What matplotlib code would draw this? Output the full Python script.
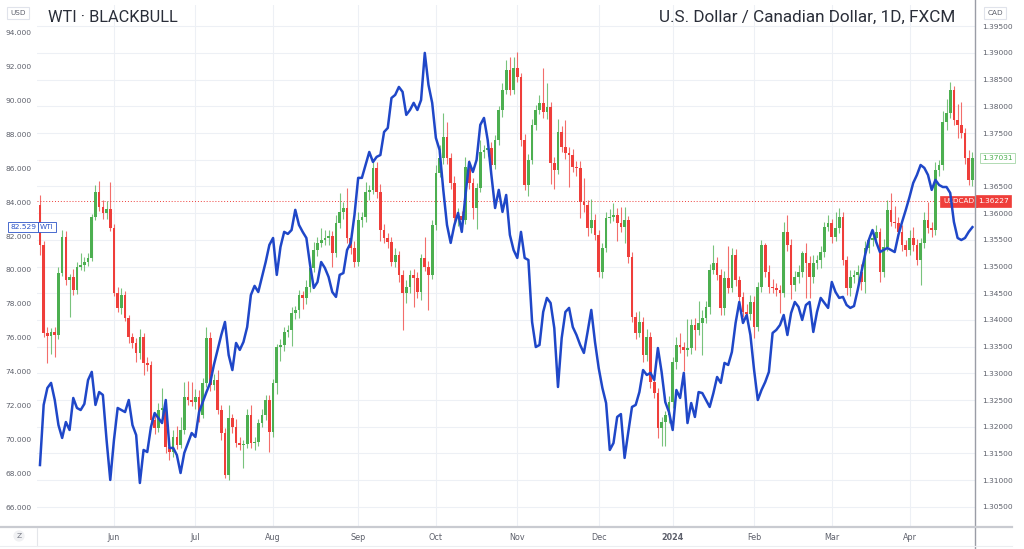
import numpy as np
import pandas as pd
import matplotlib
matplotlib.use("Agg")
import matplotlib.pyplot as plt
from matplotlib.lines import Line2D
from matplotlib.transforms import blended_transform_factory

# ---------------- data ----------------
dates = pd.bdate_range("2023-05-04", "2024-04-24")
dates = dates[~dates.isin(pd.to_datetime(["2023-12-25", "2024-01-01"]))]

month_labels = ["Jun", "Jul", "Aug", "Sep", "Oct", "Nov", "Dec", "2024", "Feb", "Mar", "Apr"]

usdcad_first_open = 1.3615
usdcad_close = [
    1.3540, 1.3376, 1.3370, 1.3378, 1.3372, 1.3488, 1.3555, 1.3475, 1.3481, 1.3456,
    1.3499, 1.3503, 1.3509, 1.3516, 1.3593, 1.3640, 1.3612, 1.3600, 1.3608, 1.3572,
    1.3451, 1.3422, 1.3447, 1.3404, 1.3368, 1.3357, 1.3338, 1.3368, 1.3319, 1.3316,
    1.3213, 1.3198, 1.3231, 1.3235, 1.3162, 1.3153, 1.3181, 1.3166, 1.3194, 1.3256,
    1.3250, 1.3246, 1.3256, 1.3222, 1.3282, 1.3366, 1.3278, 1.3288, 1.3231, 1.3188,
    1.3110, 1.3216, 1.3200, 1.3170, 1.3166, 1.3168, 1.3222, 1.3170, 1.3171, 1.3207,
    1.3222, 1.3250, 1.3190, 1.3282, 1.3349, 1.3353, 1.3378, 1.3381, 1.3413, 1.3419,
    1.3447, 1.3441, 1.3462, 1.3497, 1.3531, 1.3544, 1.3550, 1.3554, 1.3557, 1.3525,
    1.3582, 1.3602, 1.3610, 1.3554, 1.3535, 1.3509, 1.3587, 1.3593, 1.3640, 1.3643,
    1.3685, 1.3640, 1.3569, 1.3554, 1.3546, 1.3509, 1.3522, 1.3484, 1.3451, 1.3462,
    1.3484, 1.3479, 1.3452, 1.3516, 1.3499, 1.3484, 1.3578, 1.3675, 1.3703, 1.3743,
    1.3703, 1.3657, 1.3591, 1.3595, 1.3587, 1.3687, 1.3657, 1.3610, 1.3647, 1.3715,
    1.3718, 1.3722, 1.3690, 1.3737, 1.3793, 1.3831, 1.3868, 1.3831, 1.3872, 1.3855,
    1.3737, 1.3653, 1.3700, 1.3765, 1.3793, 1.3806, 1.3789, 1.3799, 1.3694, 1.3681,
    1.3752, 1.3724, 1.3713, 1.3709, 1.3687, 1.3685, 1.3621, 1.3615, 1.3572, 1.3587,
    1.3559, 1.3490, 1.3535, 1.3591, 1.3593, 1.3597, 1.3582, 1.3574, 1.3587, 1.3518,
    1.3406, 1.3376, 1.3396, 1.3334, 1.3368, 1.3284, 1.3263, 1.3198, 1.3209, 1.3222,
    1.3246, 1.3321, 1.3353, 1.3349, 1.3344, 1.3347, 1.3391, 1.3381, 1.3394, 1.3404,
    1.3424, 1.3494, 1.3507, 1.3484, 1.3422, 1.3479, 1.3460, 1.3522, 1.3475, 1.3443,
    1.3415, 1.3411, 1.3434, 1.3387, 1.3462, 1.3540, 1.3490, 1.3462, 1.3460, 1.3456,
    1.3451, 1.3565, 1.3540, 1.3465, 1.3481, 1.3490, 1.3525, 1.3507, 1.3481, 1.3507,
    1.3512, 1.3527, 1.3574, 1.3582, 1.3555, 1.3572, 1.3593, 1.3512, 1.3460, 1.3481,
    1.3484, 1.3490, 1.3471, 1.3535, 1.3550, 1.3554, 1.3565, 1.3490, 1.3537, 1.3606,
    1.3584, 1.3582, 1.3565, 1.3540, 1.3531, 1.3554, 1.3540, 1.3512, 1.3544, 1.3587,
    1.3572, 1.3568, 1.3681, 1.3690, 1.3771, 1.3788, 1.3831, 1.3775, 1.3765, 1.3750,
    1.3703, 1.3662, 1.3703,
]
# wick lengths above / below the candle body, in pips (0.0001)
upper_wick_pips = [
    19, 8, 10, 6, 8, 12, 13, 12, 5, 15,
    10, 22, 8, 10, 6, 13, 20, 12, 15, 50,
    8, 10, 12, 8, 6, 8, 10, 15, 8, 12,
    8, 10, 14, 37, 10, 8, 12, 20, 25, 28,
    30, 33, 15, 12, 10, 20, 12, 10, 18, 10,
    10, 25, 8, 15, 10, 8, 12, 19, 10, 8,
    12, 10, 10, 8, 6, 12, 8, 10, 12, 8,
    10, 8, 12, 10, 15, 12, 22, 15, 12, 10,
    15, 35, 10, 37, 10, 12, 15, 10, 18, 10,
    12, 10, 14, 10, 8, 10, 12, 8, 10, 12,
    10, 12, 10, 8, 40, 12, 10, 15, 25, 45,
    28, 10, 12, 15, 10, 18, 12, 8, 10, 22,
    10, 15, 12, 10, 8, 12, 18, 25, 20, 30,
    8, 12, 10, 12, 10, 15, 65, 45, 10, 12,
    25, 12, 50, 10, 12, 10, 12, 45, 10, 40,
    12, 10, 10, 12, 15, 22, 12, 30, 25, 8,
    10, 8, 20, 10, 15, 10, 8, 10, 10, 8,
    12, 10, 15, 23, 10, 55, 10, 12, 42, 15,
    12, 10, 33, 10, 12, 12, 60, 13, 10, 8,
    10, 15, 12, 10, 10, 10, 4, 12, 15, 10,
    10, 19, 32, 12, 10, 12, 5, 20, 12, 15,
    10, 12, 10, 15, 8, 30, 17, 10, 8, 12,
    10, 12, 15, 12, 10, 12, 13, 8, 15, 19,
    32, 30, 10, 12, 10, 15, 20, 12, 10, 15,
    34, 12, 15, 10, 20, 25, 15, 8, 30, 43,
    10, 15, 11,
]
lower_wick_pips = [
    19, 8, 50, 33, 41, 8, 6, 10, 70, 10,
    8, 6, 12, 8, 5, 6, 8, 10, 10, 6,
    6, 8, 10, 6, 12, 10, 17, 12, 22, 12,
    18, 12, 8, 10, 12, 15, 10, 8, 6, 8,
    10, 8, 12, 14, 6, 8, 12, 10, 8, 12,
    6, 10, 12, 8, 10, 43, 8, 10, 14, 8,
    8, 10, 37, 10, 20, 25, 12, 10, 30, 12,
    15, 20, 12, 10, 8, 12, 8, 10, 14, 25,
    8, 10, 12, 10, 12, 10, 8, 12, 10, 15,
    8, 12, 22, 10, 12, 8, 10, 12, 69, 20,
    12, 54, 10, 15, 8, 65, 8, 10, 8, 10,
    10, 12, 10, 15, 12, 8, 12, 20, 40, 8,
    12, 10, 12, 8, 10, 12, 8, 10, 8, 10,
    12, 10, 20, 8, 10, 8, 10, 12, 40, 35,
    8, 10, 12, 60, 10, 15, 30, 12, 15, 10,
    10, 10, 12, 8, 10, 8, 35, 10, 30, 12,
    10, 12, 8, 12, 10, 12, 10, 20, 35, 45,
    15, 10, 12, 10, 40, 12, 10, 38, 10, 60,
    10, 12, 8, 10, 13, 12, 10, 8, 12, 15,
    10, 10, 12, 20, 8, 10, 10, 12, 10, 12,
    38, 8, 10, 25, 10, 12, 10, 65, 40, 12,
    12, 15, 10, 8, 10, 8, 10, 10, 13, 15,
    12, 15, 15, 20, 10, 12, 10, 19, 10, 8,
    8, 10, 12, 10, 12, 10, 10, 10, 47, 10,
    10, 12, 8, 12, 10, 15, 10, 10, 25, 10,
    10, 10, 12,
]
wti_close = [
    68.48, 72.03, 73.03, 73.33, 72.32, 70.84, 70.08, 71.02, 70.55, 72.44,
    71.85, 71.73, 72.09, 73.50, 73.98, 72.03, 72.79, 72.62, 69.96, 67.60,
    69.96, 71.85, 71.73, 71.61, 72.32, 70.84, 70.25, 67.42, 69.37, 69.25,
    70.73, 71.55, 71.26, 70.96, 72.32, 69.49, 69.49, 69.07, 68.01, 69.19,
    69.78, 70.37, 70.14, 71.61, 72.20, 72.79, 73.33, 74.39, 75.28, 76.16,
    76.93, 74.98, 74.09, 75.69, 75.28, 75.75, 76.63, 78.52, 79.06, 78.70,
    79.59, 80.47, 81.48, 81.89, 79.71, 81.36, 82.25, 82.13, 82.36, 83.55,
    82.66, 82.25, 81.89, 80.30, 78.94, 79.29, 80.47, 80.12, 79.59, 78.70,
    78.41, 79.71, 79.82, 81.18, 81.60, 83.25, 85.44, 85.44, 86.20, 86.97,
    86.38, 86.68, 86.79, 88.15, 88.39, 90.16, 90.34, 90.81, 90.52, 89.16,
    89.45, 89.87, 89.45, 90.04, 92.82, 90.93, 89.87, 87.80, 87.09, 84.73,
    82.66, 81.60, 82.66, 83.37, 82.25, 84.43, 86.38, 85.79, 86.50, 88.57,
    88.98, 87.68, 85.61, 83.66, 84.73, 83.43, 84.43, 82.07, 81.18, 80.71,
    82.25, 80.71, 80.59, 76.93, 75.45, 75.57, 77.52, 78.35, 78.05, 76.57,
    73.09, 75.98, 77.52, 77.76, 76.63, 76.16, 75.57, 75.10, 76.34, 77.64,
    75.75, 74.21, 73.03, 72.14, 69.37, 69.78, 71.32, 71.49, 68.90, 70.43,
    71.91, 72.03, 72.79, 74.09, 73.80, 73.92, 73.50, 75.39, 73.98, 72.20,
    71.61, 70.55, 72.91, 72.44, 73.92, 70.96, 72.14, 71.32, 72.79, 72.73,
    72.32, 71.91, 72.73, 73.68, 73.33, 74.51, 74.39, 75.16, 76.87, 78.11,
    76.87, 77.34, 76.16, 74.09, 72.32, 72.91, 73.38, 73.98, 76.28, 76.46,
    76.75, 77.34, 76.16, 77.46, 78.11, 77.82, 77.05, 77.93, 78.11, 76.34,
    77.52, 78.35, 78.05, 77.76, 79.29, 78.70, 78.35, 78.41, 77.93, 77.76,
    77.87, 78.82, 79.88, 80.89, 81.77, 82.36, 81.65, 81.06, 81.18, 81.30,
    81.18, 81.06, 82.07, 82.84, 83.55, 84.31, 85.14, 85.61, 86.20, 86.03,
    85.61, 84.73, 85.32, 85.02, 84.90, 84.90, 84.55, 82.84, 81.89, 81.77,
    81.89, 82.25, 82.53,
]
wti_last_label = 82.529
usdcad_line_price = 1.36227
usdcad_last_label = 1.37031
usdcad_tick_hidden = 1.370   # covered by the last-price label in the reference

n = len(dates)
assert len(usdcad_close) == n and len(wti_close) == n
assert len(upper_wick_pips) == n and len(lower_wick_pips) == n

# ---------------- derived ----------------
x = np.arange(n)
c = np.array(usdcad_close)
o = np.r_[usdcad_first_open, c[:-1]]
hi = np.maximum(o, c) + np.array(upper_wick_pips) * 1e-4
lo = np.minimum(o, c) - np.array(lower_wick_pips) * 1e-4
month_pos = [i for i in range(1, n) if dates[i].month != dates[i - 1].month]

GREEN = "#4caf50"
RED = "#ef3e3a"
BLUE = "#1f47c8"
TXT = "#5d606b"
cols = [GREEN if cc >= oo else RED for oo, cc in zip(o, c)]

# ---------------- figure ----------------
W, H = 1024, 549
fig = plt.figure(figsize=(W / 100, H / 100), dpi=100)
fig.patch.set_facecolor("white")
fx = lambda px: px / W
fy = lambda py: 1 - py / H

L, R, B, T = fx(37), fx(975), fy(527), fy(5)
ax = fig.add_axes([L, B, R - L, T - B])
ax2 = ax.twinx()

# candles (USDCAD, right scale)
ax.vlines(x, lo, hi, colors=cols, lw=0.8, alpha=0.75, zorder=2)
ax.bar(x, np.maximum(np.abs(c - o), 0.00007), bottom=np.minimum(o, c),
       width=0.72, color=cols, linewidth=0, zorder=3)
ax.axhline(usdcad_line_price, color=RED, lw=0.7, ls=(0, (1, 2)), zorder=1)

ax.set_xlim(-0.8, n - 0.3)
ax.set_ylim(1.30122, 1.39899)
ax.yaxis.tick_right()
yt = np.arange(1.305, 1.3951, 0.005)
ax.set_yticks(yt)
ax.set_yticklabels(["" if abs(v - usdcad_tick_hidden) < 1e-6 else f"{v:.5f}" for v in yt])
ax.set_xticks(month_pos)
ax.set_xticklabels(month_labels)
for lab in ax.get_xticklabels():
    if lab.get_text() == "2024":
        lab.set_fontweight("bold")
        lab.set_color("#333333")
ax.tick_params(axis="y", length=0, pad=5, labelsize=5.4, labelcolor=TXT)
ax.tick_params(axis="x", length=0, pad=4, labelsize=5.8, labelcolor=TXT)
ax.grid(True, color="#edf0f5", lw=0.8, zorder=0)
ax.set_axisbelow(True)
for s in ax.spines.values():
    s.set_visible(False)

# WTI line (left scale)
ax2.plot(x, wti_close, color=BLUE, lw=1.8, solid_joinstyle="round", zorder=4)
ax2.set_ylim(64.82, 95.65)
ax2.yaxis.tick_left()
wt = np.arange(66, 94.1, 2)
ax2.set_yticks(wt)
ax2.set_yticklabels([f"{v:.3f}" for v in wt])
ax2.tick_params(axis="y", length=0, pad=4, labelsize=5.4, labelcolor=TXT)
for s in ax2.spines.values():
    s.set_visible(False)

# frame lines
fig.add_artist(Line2D([fx(975), fx(975)], [0, 1], color="#9a9da6", lw=1.0))
fig.add_artist(Line2D([0, fx(1012)], [fy(527), fy(527)], color="#c9cbd1", lw=1.6))
fig.add_artist(Line2D([fx(37), fx(37)], [fy(528), fy(546)], color="#e4e6ea", lw=0.8))
fig.add_artist(Line2D([0, fx(1012)], [fy(546), fy(546)], color="#eceef1", lw=0.8))

# titles
fig.text(fx(48), fy(17), "WTI · BLACKBULL", fontsize=11.8, family="Roboto",
         color="#2a2e39", va="center", ha="left")
fig.text(fx(955), fy(17), "U.S. Dollar / Canadian Dollar, 1D, FXCM", fontsize=12.3,
         family="Roboto", color="#2a2e39", va="center", ha="right")

box = dict(boxstyle="square,pad=0.45", fc="white", ec="#e0e3eb", lw=0.8)
fig.text(fx(18), fy(13), "USD", fontsize=5.2, color=TXT, ha="center", va="center", bbox=box)
fig.text(fx(995), fy(13), "CAD", fontsize=5.2, color=TXT, ha="center", va="center", bbox=box)
fig.text(fx(19), fy(536), "Z", fontsize=5.4, color="#787b86", ha="center", va="center",
         bbox=dict(boxstyle="circle,pad=0.35", fc="#f0f1f3", ec="none"))

# price labels
trR = blended_transform_factory(ax.transAxes, ax.transData)
ax.text(0.999, usdcad_line_price, "USDCAD", transform=trR, fontsize=5.2, color="white",
        ha="right", va="center", zorder=6,
        bbox=dict(boxstyle="square,pad=0.35", fc=RED, ec=RED, lw=0.5))
ax.text(1.003, usdcad_line_price, f"{usdcad_line_price:.5f}", transform=trR, fontsize=5.4,
        color="white", ha="left", va="center", zorder=6,
        bbox=dict(boxstyle="square,pad=0.35", fc=RED, ec=RED, lw=0.5))
ax.text(1.008, usdcad_last_label, f"{usdcad_last_label:.5f}", transform=trR, fontsize=5.4,
        color=GREEN, ha="left", va="center", zorder=6,
        bbox=dict(boxstyle="square,pad=0.3", fc="white", ec="#a5d6a7", lw=0.6))

trL = blended_transform_factory(ax2.transAxes, ax2.transData)
ax2.text(-0.001, wti_last_label, f"{wti_last_label:.3f}", transform=trL, fontsize=5.4,
         color="#2c54c8", ha="right", va="center", zorder=6,
         bbox=dict(boxstyle="square,pad=0.3", fc="white", ec="#2c54c8", lw=0.6))
ax2.text(0.003, wti_last_label, "WTI", transform=trL, fontsize=5.2,
         color="#2c54c8", ha="left", va="center", zorder=6,
         bbox=dict(boxstyle="square,pad=0.3", fc="white", ec="#2c54c8", lw=0.6))

fig.savefig("out.png", dpi=100, facecolor="white")
